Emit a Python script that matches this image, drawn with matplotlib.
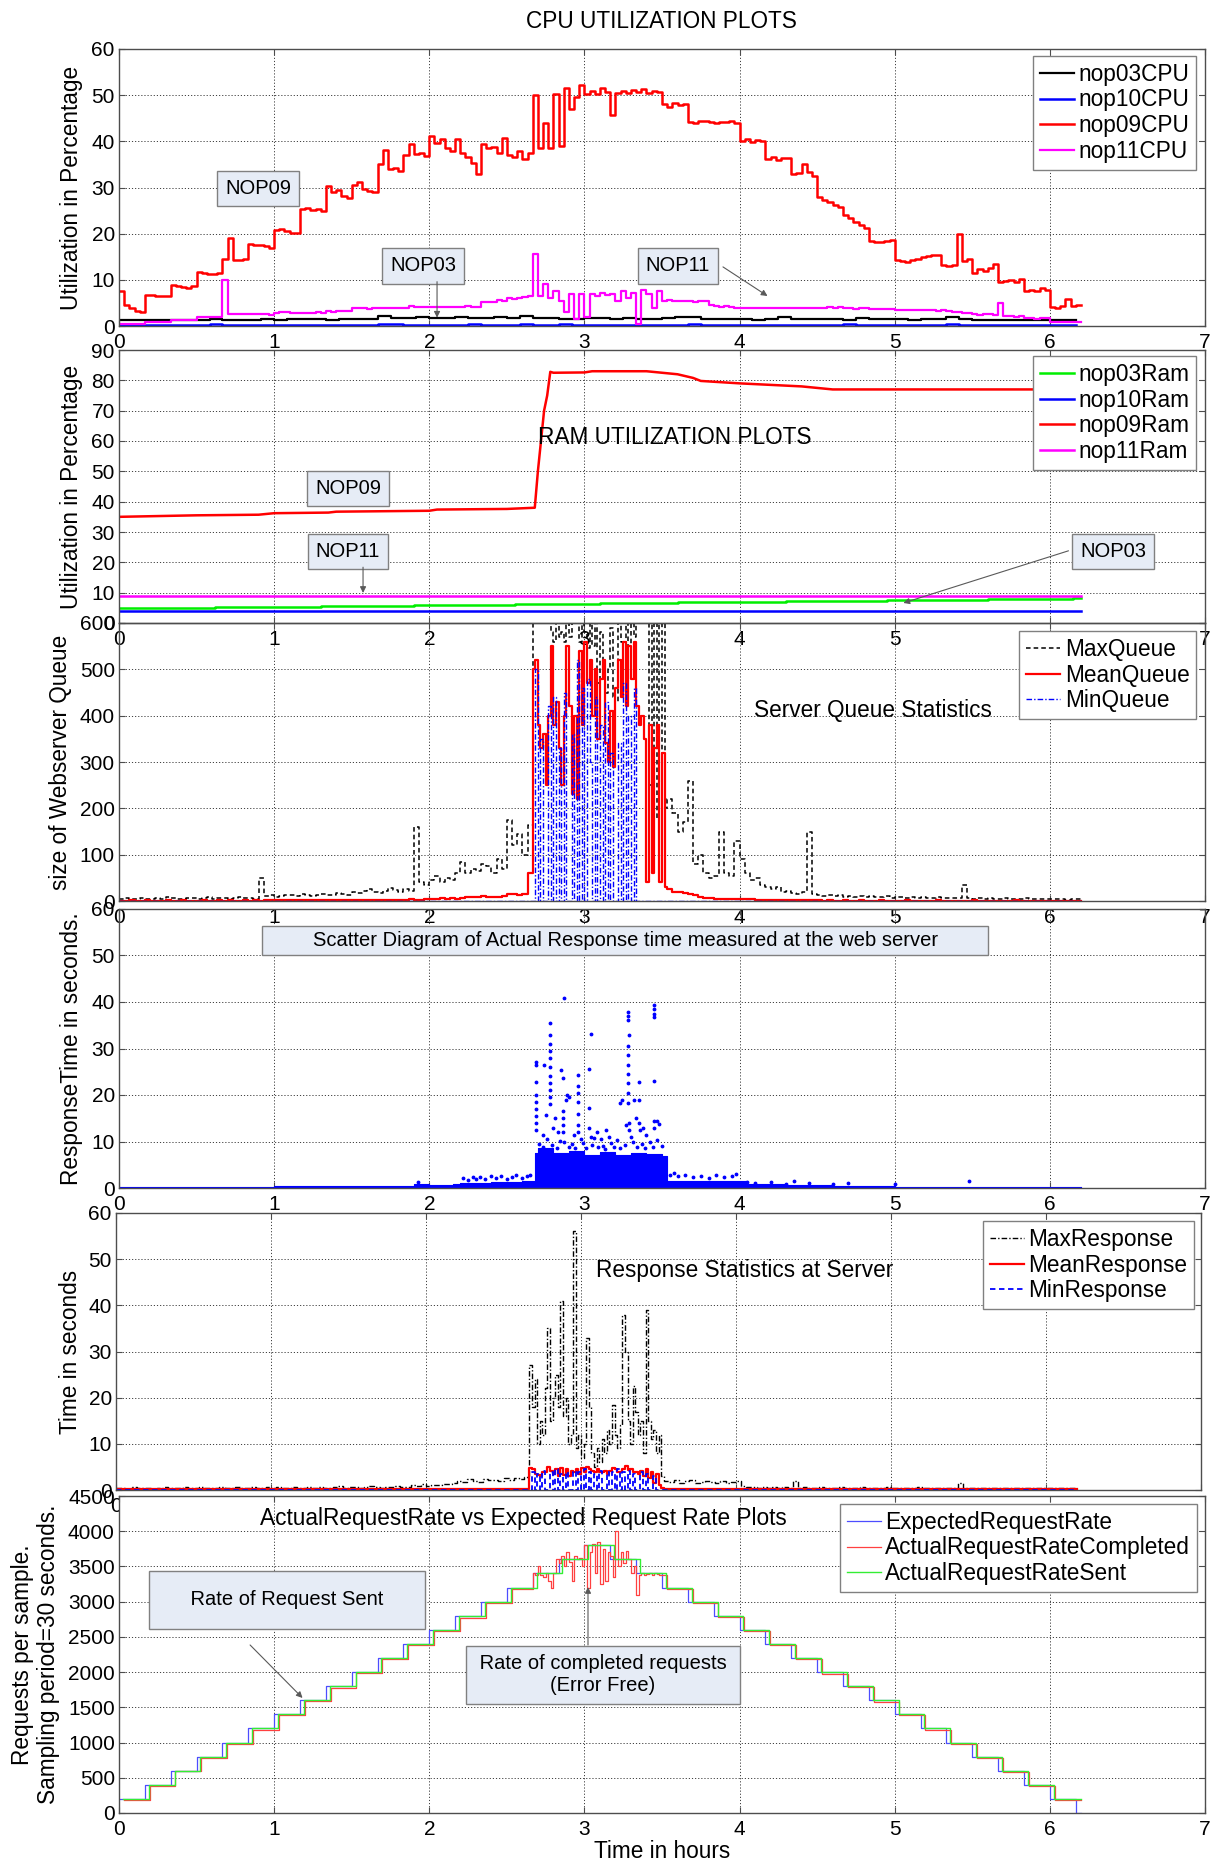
import numpy as np
import matplotlib
matplotlib.use('Agg')
import matplotlib.pyplot as plt

plt.rcParams['font.family'] = ['Liberation Sans', 'DejaVu Sans']

# ======================= DATA =======================
hour_ticks = [0, 1, 2, 3, 4, 5, 6, 7]
cpu_yticks = [0, 10, 20, 30, 40, 50, 60]
ram_yticks = [0, 10, 20, 30, 40, 50, 60, 70, 80, 90]
queue_yticks = [0, 100, 200, 300, 400, 500, 600]
resp_yticks = [0, 10, 20, 30, 40, 50, 60]
rate_yticks = [0, 500, 1000, 1500, 2000, 2500, 3000, 3500, 4000, 4500]

# --- CPU (2-minute samples) ---
cpu_nop09 = [
    7.5, 4.5, 4.0, 3.2, 3.0,
    6.8, 6.7, 6.6, 6.5, 6.6,
    8.8, 8.7, 8.5, 8.3, 8.6,
    11.6, 11.5, 11.3, 11.2, 11.4,
    14.6, 19.0, 14.4, 14.3, 14.5,
    17.8, 17.6, 17.5, 17.3, 17.0,
    20.9, 21.0, 20.6, 20.2, 20.1,
    25.3, 25.5, 25.2, 25.4, 25.0,
    30.3, 29.0, 29.5, 28.2, 27.8,
    30.5, 31.2, 29.6, 29.3, 29.0,
    35.0, 38.2, 34.0, 34.3, 33.5,
    37.0, 39.5, 37.2, 37.5, 36.8,
    41.2, 39.6, 40.5, 38.5, 38.0,
    40.5, 37.5, 36.5, 35.2, 33.0,
    39.5, 38.5, 38.8, 37.5, 40.8,
    37.0, 36.5, 38.0, 36.2, 37.5,
    50.0, 38.5, 44.0, 38.5, 50.3,
    39.0, 51.5, 47.0, 49.5, 52.2,
    50.3, 50.8, 50.2, 51.5, 50.6,
    45.8, 50.5, 51.0, 50.4, 51.2,
    50.7, 51.3, 50.5, 50.9, 50.6,
    48.0, 47.5, 48.2, 47.8, 48.0,
    44.2, 44.0, 44.5, 44.3, 44.2,
    44.0, 44.2, 44.1, 44.3, 44.0,
    40.0, 40.6, 39.8, 40.3, 40.1,
    36.2, 36.5, 36.0, 36.4, 36.3,
    33.0, 33.2, 35.0, 33.4, 32.5,
    28.0, 27.2, 26.8, 26.2, 25.8,
    24.0, 23.5, 22.5, 21.8, 21.3,
    18.5, 18.3, 18.2, 18.4, 18.6,
    14.2, 14.0, 13.8, 14.3, 14.6,
    15.0, 15.2, 15.4, 15.3, 13.2,
    13.0, 13.3, 20.0, 14.0, 14.5,
    11.5, 12.3, 12.0, 12.5, 13.5,
    9.5, 9.8, 10.0, 9.6, 10.2,
    7.5, 7.8, 7.6, 8.2, 7.9,
    4.2, 4.0, 4.3, 5.8, 4.4, 4.5, 4.6,
]
cpu_nop11 = [
    0.5, 0.5, 0.5, 0.5, 0.5,
    0.9, 0.9, 0.9, 0.9, 0.9,
    1.4, 1.4, 1.4, 1.4, 1.4,
    2.0, 2.0, 2.0, 2.0, 2.0,
    10.0, 2.6, 2.6, 2.5, 2.6,
    2.5, 2.6, 2.7, 2.6, 2.4,
    2.9, 3.0, 3.0, 2.9, 2.9,
    2.8, 2.9, 2.9, 3.0, 2.9,
    3.2, 3.1, 3.2, 3.3, 3.2,
    3.9, 3.8, 3.9, 3.7, 3.8,
    3.8, 3.9, 3.8, 4.0, 3.9,
    4.0, 4.4, 4.2, 4.1, 4.2,
    4.2, 4.1, 4.2, 4.2, 4.1,
    4.2, 4.2, 4.3, 4.2, 4.1,
    5.2, 5.3, 5.2, 5.6, 5.5,
    6.0, 5.8, 6.0, 6.3, 6.5,
    15.5, 6.5, 9.0, 6.0, 7.5,
    5.5, 3.0, 7.0, 1.5, 7.0,
    2.0, 7.0, 6.5, 7.2, 6.8,
    7.0, 5.5, 7.5, 6.0, 7.2,
    0.5, 7.8, 7.0, 4.0, 7.5,
    5.5, 5.6, 5.5, 5.5, 5.4,
    5.4, 5.3, 5.5, 5.4, 4.5,
    4.3, 4.2, 4.3, 4.2, 4.0,
    4.0, 4.0, 3.9, 4.0, 4.0,
    3.9, 3.9, 3.9, 3.8, 3.9,
    3.9, 3.8, 3.9, 4.0, 4.0,
    3.9, 4.0, 4.1, 4.0, 4.2,
    4.0, 3.8, 3.7, 3.8, 3.8,
    3.6, 3.6, 3.7, 3.6, 3.6,
    3.5, 3.5, 3.5, 3.4, 3.5,
    3.4, 3.4, 3.4, 3.3, 3.4,
    3.2, 3.0, 3.0, 2.8, 2.8,
    2.5, 2.4, 2.5, 2.5, 2.4,
    5.0, 2.2, 2.1, 2.0, 2.1,
    1.8, 1.7, 1.6, 1.7, 1.8,
    0.8, 0.8, 0.8, 0.8, 0.8, 0.8, 0.8,
]
# 5-minute samples
cpu_nop03 = [
    1.2, 1.2, 1.2, 1.3, 1.2, 1.3,
    1.4, 1.5, 1.3, 1.4, 1.3, 1.5,
    1.4, 1.6, 1.5, 1.5, 1.4, 1.6,
    1.5, 1.6, 2.2, 1.8, 1.7, 1.9,
    1.8, 1.7, 2.0, 1.8, 1.7, 1.9,
    1.8, 2.2, 1.7, 1.8, 1.5, 1.5,
    1.7, 1.8, 1.6, 1.7, 1.6, 1.5,
    1.7, 1.9, 2.0, 1.6, 1.5, 1.5,
    1.6, 1.4, 1.5, 2.0, 1.6, 1.5,
    1.5, 1.6, 1.4, 1.7, 1.5, 1.5,
    1.5, 1.4, 1.6, 1.5, 1.9, 1.5,
    1.4, 1.3, 1.4, 1.3, 1.3, 1.4,
    1.3, 1.3, 1.3,
]
cpu_nop10 = [
    0.3, 0.3, 0.3, 0.3, 0.3, 0.3,
    0.3, 0.5, 0.3, 0.3, 0.3, 0.3,
    0.3, 0.3, 0.3, 0.3, 0.3, 0.3,
    0.3, 0.3, 0.4, 0.5, 0.3, 0.3,
    0.3, 0.3, 0.3, 0.4, 0.3, 0.3,
    0.3, 0.4, 0.3, 0.3, 0.5, 0.3,
    0.3, 0.3, 0.3, 0.3, 0.3, 0.3,
    0.3, 0.3, 0.5, 0.3, 0.3, 0.3,
    0.3, 0.3, 0.3, 0.3, 0.3, 0.3,
    0.3, 0.3, 0.5, 0.3, 0.3, 0.3,
    0.3, 0.3, 0.3, 0.3, 0.4, 0.3,
    0.3, 0.3, 0.3, 0.3, 0.3, 0.3,
    0.3, 0.3, 0.3,
]

# --- RAM ---
ram09_t = [0, 0.5, 0.9, 1.0, 1.35, 1.4, 2.0, 2.05, 2.5, 2.68, 2.70, 2.72, 2.74, 2.76,
           2.78, 2.8, 3.0, 3.05, 3.4, 3.6, 3.7, 3.75, 4.0, 4.2, 4.4, 4.5, 4.6, 5.0, 5.5, 6.2]
ram09_v = [35.0, 35.5, 35.7, 36.2, 36.4, 36.7, 37.0, 37.4, 37.6, 38.0, 50.0, 60.0, 70.0, 75.0,
           82.8, 82.5, 82.6, 83.0, 83.0, 82.0, 80.8, 79.8, 79.0, 78.5, 78.0, 77.5, 77.0, 77.0, 77.0, 77.0]
ram03_t = [0, 0.62, 1.3, 1.9, 2.55, 3.1, 3.6, 4.3, 4.95, 5.6, 6.15, 6.2]
ram03_v = [4.9, 5.4, 5.7, 6.0, 6.4, 6.7, 6.9, 7.1, 7.5, 7.8, 8.2, 8.2]
ram10_t = [0, 6.2]
ram10_v = [4.0, 4.0]
ram11_t = [0, 6.2]
ram11_v = [9.0, 9.0]

# --- segment start times (hours) ---
seg_a_start, seg_b_start, seg_c_start = 0.0, 2.6667, 3.5333

# --- Webserver queue ---
qmax_a = [5, 6, 4, 5, 7, 5, 4, 6, 5, 8, 6, 5, 4, 6, 7, 5, 6, 8, 5, 6, 7, 5, 6, 8, 7, 6, 5,
          50,
          10, 12, 8, 10, 14, 12, 10, 15, 12, 10, 13, 16, 12, 14, 18, 15, 12,
          20, 18, 22, 25, 20, 18, 22, 28, 24, 20, 25, 22,
          160,
          40, 35, 45, 55, 40, 50, 45, 60,
          85,
          60, 70, 65, 80, 75, 60, 90, 70,
          175,
          120, 145, 100, 165]
qmax_b = [600, 620, 600, 640, 600, 610, 600, 580, 560, 600,
          570, 580, 560, 600, 570, 600, 620, 600, 560, 600,
          580, 545, 600, 550, 600, 470, 580, 520, 450, 500,
          590, 440, 430, 600, 560, 520, 600, 550, 600, 570,
          600, 640, 600, 620, 600, 250, 600, 180, 600, 260,
          600, 200]
qmax_c = [220, 190, 150, 170, 260, 80, 100, 60, 50, 55, 150, 60, 55, 130, 90, 60, 45, 50,
          35, 30, 25, 30, 20, 22, 18, 15, 20, 150, 15,
          12, 10, 14, 10, 12, 8, 10, 9, 11, 8, 10, 9, 8, 10, 7, 9,
          8, 7, 9, 6, 8, 7, 6, 8, 7, 6, 7, 6,
          35,
          6, 5, 7, 5, 6, 5, 4, 6, 5, 4, 5, 6, 4, 5, 4, 5, 4, 5, 4, 3, 4, 5, 4]
qmean_a = [1, 1, 2, 1, 1, 2, 1, 1, 1, 2, 1, 1, 2, 1, 1, 1, 2, 1, 1, 2,
           1, 2, 1, 1, 2, 1, 2, 1, 2, 2,
           2, 2, 3, 2, 2, 3, 2, 2, 3, 2, 2, 3, 2, 3, 2, 2, 3, 3, 2, 3,
           3, 2, 3, 3, 2, 3, 4, 3, 3, 4,
           4, 5, 6, 5, 6, 5, 6,
           8, 9, 8, 10, 9, 8, 9, 10,
           15, 16, 14, 16, 60]
qmean_b = [500, 520, 380, 330, 360, 250, 400, 550, 380, 430,
           330, 250, 400, 550, 420, 230, 400, 220, 540, 380,
           560, 470, 520, 400, 500, 350, 480, 520, 340, 300,
           410, 290, 460, 520, 440, 560, 420, 550, 480, 560,
           420, 380, 400, 350, 40, 380, 60, 330, 380, 40,
           320, 30]
qmean_c = [25, 20, 20, 18, 15, 12, 8, 7, 6, 5, 5, 4, 5, 4,
           5, 4, 4, 3, 3, 3, 3, 2, 2, 3, 2, 2, 2, 2, 2,
           2, 1, 2, 1, 1, 2, 1, 1, 2, 1, 1, 1, 2, 1, 1, 1, 1, 2, 1, 1,
           1, 1, 1, 2, 1, 1, 1, 1, 1, 1, 2, 1, 1, 1, 1, 1, 1, 1, 2, 1,
           1, 1, 1, 1, 1, 1, 1, 1, 1, 1, 1, 1]
qmin_b = [0, 500, 0, 350, 0, 0, 420, 0, 440, 0,
          330, 0, 450, 0, 0, 360, 0, 520, 0, 460,
          0, 480, 300, 0, 440, 0, 380, 0, 430, 0,
          320, 0, 0, 340, 0, 470, 0, 400, 0, 460,
          0, 0, 0, 0, 0, 0, 0, 0, 0, 0,
          0, 0]
qmin_edge_t = [0.0, 3.5333, 6.2]
qmin_edge_v = [0, 0, 0]

# --- Scatter of response times ---
band_t = [0, 0.5, 1.0, 1.5, 1.9, 2.0, 2.15, 2.2, 2.4, 2.6, 2.68, 2.7, 2.8, 2.9, 3.0, 3.1,
          3.2, 3.3, 3.4, 3.5, 3.53, 3.7, 3.9, 4.0, 4.05, 4.3, 4.6, 5.0, 6.2]
band_top = [0.3, 0.3, 0.4, 0.4, 0.8, 0.6, 0.8, 1.0, 1.2, 1.4, 7.5, 8.5, 7.5, 8.0, 7.2, 7.8,
            7.0, 7.6, 7.3, 6.8, 1.6, 1.5, 1.4, 1.5, 0.8, 0.6, 0.4, 0.3, 0.3]
scatter_t = [2.69, 2.69, 2.69, 2.69, 2.69, 2.69, 2.69, 2.69, 2.69, 2.74, 2.73, 2.75,
             2.78, 2.78, 2.78, 2.78, 2.78, 2.78, 2.78, 2.78, 2.78, 2.78, 2.78,
             2.80, 2.81, 2.83, 2.85, 2.86, 2.86, 2.86, 2.86, 2.86, 2.87, 2.88, 2.89, 2.90,
             2.93, 2.96, 2.96, 2.96, 2.96, 2.96, 2.96, 2.96, 2.98,
             3.03, 3.04, 3.03, 3.03, 3.04, 3.08, 3.11, 3.14, 3.16,
             3.23, 3.24, 3.27,
             3.28, 3.28, 3.28, 3.28, 3.28, 3.28, 3.28, 3.28, 3.28, 3.28, 3.29, 3.29, 3.29, 3.30,
             3.32, 3.33, 3.35, 3.35, 3.35, 3.36, 3.38, 3.40,
             3.45, 3.45, 3.45, 3.45, 3.45, 3.45, 3.45, 3.47, 3.48,
             2.71, 2.73, 2.76, 2.79, 2.82, 2.84, 2.87, 2.90, 2.92, 2.94, 2.99, 3.01, 3.05, 3.06,
             3.09, 3.12, 3.13, 3.17, 3.19, 3.21, 3.23, 3.26, 3.31, 3.34, 3.37, 3.39, 3.42, 3.44,
             3.47, 3.50,
             2.22, 2.25, 2.28, 2.30, 2.33, 2.36, 2.40, 2.43, 2.46, 2.50, 2.53, 2.56, 2.60, 2.63,
             2.65, 3.55, 3.58, 3.60, 3.65, 3.70, 3.75, 3.80, 3.85, 3.90, 3.95, 3.98,
             4.05, 4.10, 4.20, 4.30, 4.45, 4.60, 1.93, 4.35, 4.70, 5.48, 5.00]
scatter_v = [27.2, 26.5, 22.7, 20.0, 18.5, 17.0, 15.5, 14.0, 12.5, 26.4, 11.5, 15.8,
             35.4, 33.0, 31.0, 29.5, 28.0, 26.0, 24.0, 22.5, 21.0, 19.5, 18.0,
             13.0, 15.0, 12.0, 25.4, 23.6, 16.5, 15.0, 13.5, 12.0, 40.9, 19.0, 20.0, 19.5,
             11.5, 24.3, 22.0, 20.5, 18.5, 16.0, 13.5, 12.0, 10.5,
             25.6, 33.2, 17.2, 13.0, 11.0, 12.0, 10.5, 12.5, 11.0,
             18.3, 19.0, 13.5,
             37.9, 37.0, 36.1, 30.6, 28.5, 26.5, 24.5, 22.5, 20.5, 18.3, 33.0, 14.0, 12.5, 11.0,
             19.0, 15.0, 22.8, 19.0, 14.0, 12.5, 13.0, 11.5,
             39.3, 38.5, 37.5, 36.8, 23.0, 14.5, 13.0, 14.5, 13.8,
             9.5, 8.8, 10.5, 9.2, 8.6, 10.2, 9.8, 8.9, 9.4, 8.5, 9.6, 8.7, 9.3, 10.8,
             8.8, 9.1, 8.4, 9.7, 8.9, 10.3, 8.6, 9.2, 9.9, 8.8, 9.5, 8.7, 9.8, 8.9,
             10.4, 9.0,
             2.2, 1.8, 2.4, 2.0, 2.3, 1.9, 2.5, 2.1, 2.6, 2.0, 2.4, 2.7, 2.2, 2.5,
             2.9, 2.8, 3.2, 2.5, 2.9, 2.4, 2.6, 2.2, 2.8, 2.3, 2.6, 3.0,
             1.2, 1.0, 1.3, 0.9, 1.1, 0.8, 1.2, 1.6, 1.0, 1.5, 0.8]

# --- Response statistics ---
rmax_a = [0.4, 0.5, 0.3, 0.6, 0.4, 0.5, 0.4, 0.3, 0.5, 0.6,
          0.4, 0.5, 0.4, 0.7, 0.5, 0.4, 0.6, 0.5, 0.4, 0.5,
          0.6, 0.4, 0.5, 0.7, 0.5, 0.4, 0.6, 0.5, 0.4, 0.6,
          0.5, 0.7, 0.4, 0.5, 0.6, 0.5, 0.4, 0.7, 0.5, 0.6,
          0.5, 0.4, 0.6, 0.8, 0.5, 0.6, 0.7, 0.5, 0.6, 0.8,
          0.6, 0.5, 0.7, 0.6, 0.8, 0.6, 0.7,
          1.0, 0.8, 1.2, 0.9, 1.1, 1.0, 1.3, 1.2, 1.5,
          2.0, 1.8, 2.3, 2.0, 1.7, 2.4, 2.1, 2.2, 1.9, 2.5, 2.2, 2.6, 2.4, 2.8]
rmax_b = [27, 18, 24, 10, 15, 12, 22, 35, 15, 20,
          25, 18, 41, 16, 20, 10, 12, 56, 9, 12,
          7, 10, 33, 18, 8, 5, 9, 6, 11, 8,
          13, 10, 18.5, 12, 9, 14, 38, 30, 15, 10,
          22.5, 17, 12, 15, 8, 39, 15, 11, 13, 8,
          12, 3]
rmax_c = [2.0, 1.8, 2.2, 1.6, 1.9, 2.1, 1.5, 1.8, 2.0, 1.7, 1.6, 1.9, 1.5, 1.8, 2.0,
          0.8, 0.6, 0.7, 0.5, 0.6, 0.5, 0.7, 0.5, 0.6, 0.5,
          2.0, 0.5, 0.6, 0.4, 0.5, 0.6, 0.4, 0.5, 0.4, 0.6,
          0.5, 0.4, 0.5, 0.6, 0.4, 0.5, 0.4, 0.5, 0.6, 0.4,
          0.5, 0.4, 0.5, 0.4, 0.6, 0.5, 0.4, 0.5, 0.4, 0.5,
          0.4, 0.5, 1.5, 0.4, 0.5, 0.4, 0.5, 0.4, 0.4, 0.5,
          0.4, 0.5, 0.4, 0.4, 0.5, 0.4, 0.4, 0.5, 0.4, 0.4,
          0.5, 0.4, 0.4, 0.5, 0.4, 0.4]
rmean_b = [4.8, 4.5, 3.5, 3.2, 3.0, 3.8, 4.0, 5.0, 4.2, 3.5,
           4.5, 3.0, 4.8, 3.2, 4.5, 3.0, 4.2, 3.8, 4.6, 3.5,
           4.8, 4.0, 5.0, 4.5, 4.2, 3.8, 4.5, 4.0, 3.8, 4.2,
           3.5, 4.2, 4.8, 4.5, 4.0, 3.8, 4.6, 5.2, 4.3, 4.6,
           3.8, 4.0, 3.5, 4.2, 3.0, 4.5, 2.5, 4.0, 1.5, 3.5,
           1.0, 0.5]
rmean_edge_t = [0.0, 2.6, 3.5333, 6.2]
rmean_edge_v = [0.3, 0.3, 0.3, 0.3]
rmin_b = [0, 4, 0, 3.5, 0, 4.2, 0, 0, 3.8, 0,
          4.5, 0, 3.5, 0, 4.0, 0, 0, 4.2, 0, 3.8,
          0, 4.5, 0, 4.0, 0, 3.5, 0, 4.2, 0, 0,
          4.0, 0, 3.8, 0, 4.5, 0, 4.0, 0, 4.2, 0,
          3.5, 0, 0, 4.0, 0, 3.5, 0, 0, 3.0, 0,
          0, 0]
rmin_edge_t = [0.0, 3.5333, 6.2]
rmin_edge_v = [0.05, 0.05, 0.05]

# --- Request rates (10-minute levels) ---
expected_levels = [200, 400, 600, 800, 1000, 1200, 1400, 1600, 1800, 2000, 2200, 2400, 2600,
                   2800, 3000, 3200, 3400, 3600, 3800, 3600, 3400, 3200, 3000, 2800, 2600,
                   2400, 2200, 2000, 1800, 1600, 1400, 1200, 1000, 800, 600, 400, 200, 0]
sent_levels = [200, 400, 600, 800, 1000, 1200, 1400, 1600, 1800, 2000, 2200, 2400, 2600,
               2800, 3000, 3200, 3400, 3600, 3800, 3600, 3400, 3200, 3000, 2800, 2600,
               2400, 2200, 2000, 1800, 1600, 1400, 1200, 1000, 800, 600, 400, 200]
sent_lag = 0.025
completed_early = [190, 390, 590, 785, 985, 1180, 1385, 1585, 1780, 1985, 2180, 2385, 2580,
                   2775, 2980, 3185]
completed_peak = [3400, 3380, 3500, 3380, 3350, 3400, 3300, 3200, 3400, 3600,
                  3550, 3650, 3500, 3700, 3560, 3300, 3650, 3600, 3620, 3500,
                  3800, 3200, 3700, 3820, 3400, 3850, 3250, 3750, 3300, 3700,
                  3650, 3350, 4000, 3500, 3700, 3550, 3720, 3600, 3400, 3500,
                  3100, 3380, 3400, 3380, 3390, 3400, 3380, 3400, 3390, 3380]
completed_late = [3180, 2980, 2780, 2585, 2380, 2185, 1980, 1785, 1580, 1385, 1180, 985,
                  785, 585, 385, 190]
completed_lag = 0.03
end_hour = 6.2

# ======================= FIGURE =======================
W, H = 1214.0, 1862.0
fig = plt.figure(figsize=(W / 100, H / 100), dpi=100)

FS_LABEL = 16.3
FS_TEXT = 16.3
FS_LEG = 16.3
FS_BOX = 14.5


def rect(left, top, right, bottom):
    return [left / W, 1 - bottom / H, (right - left) / W, (bottom - top) / H]


def style(ax, yticks, fc='none'):
    ax.set_xlim(0, 7)
    ax.set_ylim(yticks[0], yticks[-1])
    ax.set_xticks(hour_ticks)
    ax.set_yticks(yticks)
    ax.set_axisbelow(True)
    ax.grid(True, linestyle=(0, (1.2, 2.0)), color='0.25', lw=0.7)
    ax.tick_params(direction='in', length=4, labelsize=15, top=True, right=True,
                   color='0.3', labelcolor='black')
    ax.tick_params(axis='y', pad=3)
    ax.tick_params(axis='x', pad=5)
    for s in ax.spines.values():
        s.set_color('0.3')
        s.set_linewidth(1.0)
    ax.set_facecolor(fc)


BOX = dict(boxstyle='square,pad=0.4', fc='#e6ecf6', ec='0.5', lw=1)
ARROW = dict(arrowstyle='-|>', color='0.35', lw=0.8, mutation_scale=9, shrinkA=0, shrinkB=0)


def legend(ax, x, y):
    lg = ax.legend(loc='upper right', bbox_to_anchor=(x, y), fontsize=FS_LEG, frameon=True,
                   fancybox=False, edgecolor='0.5', framealpha=1, borderpad=0.3,
                   labelspacing=0.12, handlelength=1.5, handletextpad=0.2, borderaxespad=0)
    lg.get_frame().set_linewidth(1.0)


fig.text(661 / W, 1 - 22 / H, 'CPU UTILIZATION PLOTS', ha='center', va='center',
         fontsize=FS_TEXT)

# ---- Panel 1: CPU ----
ax1 = fig.add_axes(rect(119, 49, 1205, 326))
style(ax1, cpu_yticks, fc='white')
t30 = np.arange(len(cpu_nop09)) / 30.0
t12 = np.arange(len(cpu_nop03)) / 12.0
ax1.plot(t12, cpu_nop03, color='black', lw=1.6, drawstyle='steps-post', label='nop03CPU')
ax1.plot(t12, cpu_nop10, color='blue', lw=1.8, drawstyle='steps-post', label='nop10CPU')
ax1.plot(t30, cpu_nop09, color='red', lw=1.8, drawstyle='steps-post', label='nop09CPU')
ax1.plot(np.arange(len(cpu_nop11)) / 30.0, cpu_nop11, color='magenta', lw=1.6,
         drawstyle='steps-post', label='nop11CPU')
ax1.set_ylabel('Utilization in Percentage', fontsize=FS_LABEL)
ax1.yaxis.set_label_coords(-0.033, 0.5)
legend(ax1, 0.992, 0.975)
ax1.text(0.896, 29.7, 'NOP09', ha='center', va='center', fontsize=FS_BOX, bbox=BOX)
ax1.text(1.96, 13.0, 'NOP03', ha='center', va='center', fontsize=FS_BOX, bbox=BOX)
ax1.annotate('', xy=(2.05, 1.8), xytext=(2.05, 9.6), arrowprops=ARROW)
ax1.text(3.603, 13.0, 'NOP11', ha='center', va='center', fontsize=FS_BOX, bbox=BOX)
ax1.annotate('', xy=(4.18, 6.5), xytext=(3.893, 12.8), arrowprops=ARROW)

# ---- Panel 2: RAM ----
ax2 = fig.add_axes(rect(119, 350, 1205, 623))
style(ax2, ram_yticks)
ax2.plot(ram03_t, ram03_v, color='#00ee00', lw=1.8, drawstyle='steps-post', label='nop03Ram')
ax2.plot(ram10_t, ram10_v, color='blue', lw=1.8, label='nop10Ram')
ax2.plot(ram09_t, ram09_v, color='red', lw=1.8, label='nop09Ram')
ax2.plot(ram11_t, ram11_v, color='magenta', lw=1.8, label='nop11Ram')
ax2.set_ylabel('Utilization in Percentage', fontsize=FS_LABEL)
ax2.yaxis.set_label_coords(-0.033, 0.5)
legend(ax2, 0.992, 0.978)
ax2.text(2.70, 61.3, 'RAM UTILIZATION PLOTS', ha='left', va='center', fontsize=FS_TEXT)
ax2.text(1.476, 44.2, 'NOP09', ha='center', va='center', fontsize=FS_BOX, bbox=BOX)
ax2.text(1.476, 23.7, 'NOP11', ha='center', va='center', fontsize=FS_BOX, bbox=BOX)
ax2.annotate('', xy=(1.573, 9.9), xytext=(1.573, 18.4), arrowprops=ARROW)
ax2.text(6.407, 23.7, 'NOP03', ha='center', va='center', fontsize=FS_BOX, bbox=BOX)
ax2.annotate('', xy=(5.056, 6.6), xytext=(6.12, 23.8), arrowprops=ARROW)

# ---- Panel 3: Queue ----
ax3 = fig.add_axes(rect(119, 623, 1205, 901))
style(ax3, queue_yticks)
qa_t = seg_a_start + np.arange(len(qmax_a)) / 30.0
qb_t = seg_b_start + np.arange(len(qmax_b)) / 60.0
qc_t = seg_c_start + np.arange(len(qmax_c)) / 30.0
q_t = np.concatenate([qa_t, qb_t, qc_t])
ax3.plot(q_t, qmax_a + qmax_b + qmax_c, color='black', lw=1.1, ls=(0, (3, 2)),
         drawstyle='steps-post', label='MaxQueue')
ax3.plot(q_t, qmean_a + qmean_b + qmean_c, color='red', lw=1.6, drawstyle='steps-post',
         label='MeanQueue')
qmin_t = np.concatenate([[qmin_edge_t[0]], qb_t, qmin_edge_t[1:]])
qmin_v = [qmin_edge_v[0]] + qmin_b + qmin_edge_v[1:]
ax3.plot(qmin_t, qmin_v, color='blue', lw=1.0, ls=(0, (4, 1.5, 1, 1.5)),
         drawstyle='steps-post', label='MinQueue')
ax3.set_ylabel('size of Webserver Queue', fontsize=FS_LABEL)
ax3.yaxis.set_label_coords(-0.043, 0.5)
legend(ax3, 0.992, 0.971)
ax3.text(4.09, 412, 'Server Queue Statistics', ha='left', va='center', fontsize=FS_TEXT)

# ---- Panel 4: Scatter ----
ax4 = fig.add_axes(rect(119, 909, 1205, 1188))
style(ax4, resp_yticks)
ax4.fill_between(band_t, 0, band_top, step='post', color='blue', lw=0)
ax4.plot(band_t, band_top, color='blue', lw=0.8, drawstyle='steps-post')
ax4.plot(scatter_t, scatter_v, ls='none', marker='.', ms=3.5, color='blue')
ax4.set_ylabel('ResponseTime in seconds.', fontsize=FS_LABEL)
ax4.yaxis.set_label_coords(-0.033, 0.5)
ax4.text(3.262, 53.3,
         '        Scatter Diagram of Actual Response time measured at the web server        ',
         ha='center', va='center', fontsize=FS_BOX,
         bbox=dict(boxstyle='square,pad=0.25', fc='#e6ecf6', ec='0.5', lw=1))

# ---- Panel 5: Response statistics ----
ax5 = fig.add_axes(rect(116, 1213, 1201, 1490))
style(ax5, resp_yticks)
ra_t = seg_a_start + np.arange(len(rmax_a)) / 30.0
rb_t = seg_b_start + np.arange(len(rmax_b)) / 60.0
rc_t = seg_c_start + np.arange(len(rmax_c)) / 30.0
ax5.plot(np.concatenate([ra_t, rb_t, rc_t]), rmax_a + rmax_b + rmax_c, color='black', lw=1.0,
         ls=(0, (4, 1.5, 1, 1.5)), drawstyle='steps-post', label='MaxResponse')
rmean_t = np.concatenate([rmean_edge_t[:2], rb_t, rmean_edge_t[2:]])
ax5.plot(rmean_t, rmean_edge_v[:2] + rmean_b + rmean_edge_v[2:], color='red', lw=1.6,
         drawstyle='steps-post', label='MeanResponse')
rmin_t = np.concatenate([[rmin_edge_t[0]], rb_t, rmin_edge_t[1:]])
ax5.plot(rmin_t, [rmin_edge_v[0]] + rmin_b + rmin_edge_v[1:], color='blue', lw=1.3,
         ls=(0, (3, 2)), drawstyle='steps-post', label='MinResponse')
ax5.set_ylabel('Time in seconds', fontsize=FS_LABEL)
ax5.yaxis.set_label_coords(-0.031, 0.5)
legend(ax5, 0.9935, 0.971)
ax5.text(3.097, 47.6, 'Response Statistics at Server', ha='left', va='center',
         fontsize=FS_TEXT)

# ---- Panel 6: Request rates ----
ax6 = fig.add_axes(rect(119, 1496, 1205, 1813))
style(ax6, rate_yticks, fc='white')
k_exp = np.arange(len(expected_levels)) / 6.0
ax6.plot(np.append(k_exp, end_hour), expected_levels + [expected_levels[-1]], color='#4d4dff',
         lw=0.9, drawstyle='steps-post', label='ExpectedRequestRate')
comp_t = np.concatenate([np.arange(len(completed_early)) / 6.0 + completed_lag,
                         seg_b_start + np.arange(len(completed_peak)) / 60.0,
                         (21 + np.arange(len(completed_late))) / 6.0 + completed_lag,
                         [end_hour]])
comp_v = completed_early + completed_peak + completed_late + [completed_late[-1]]
ax6.plot(comp_t, comp_v, color='#ff4040', lw=0.9, drawstyle='steps-post',
         label='ActualRequestRateCompleted')
sent_t = np.append(np.arange(len(sent_levels)) / 6.0 + sent_lag, end_hour)
ax6.plot(sent_t, sent_levels + [sent_levels[-1]], color='#33ee33', lw=1.0,
         drawstyle='steps-post', label='ActualRequestRateSent')
ax6.set_ylabel('Requests per sample.\nSampling period=30 seconds.', fontsize=FS_LABEL)
ax6.yaxis.set_label_coords(-0.054, 0.5)
ax6.set_xlabel('Time in hours', fontsize=FS_LABEL, labelpad=1)
legend(ax6, 0.9926, 0.975)
ax6.text(0.909, 4174, 'ActualRequestRate vs Expected Request Rate Plots', ha='left',
         va='center', fontsize=FS_TEXT)
ax6.text(1.083, 3024, '    Rate of Request Sent    ', ha='center', va='center', fontsize=FS_BOX,
         bbox=dict(boxstyle='square,pad=0.95', fc='#e6ecf6', ec='0.5', lw=1))
ax6.annotate('', xy=(1.183, 1633), xytext=(0.845, 2385), arrowprops=ARROW)
ax6.text(3.12, 1959, ' Rate of completed requests \n(Error Free)', ha='center', va='center',
         fontsize=FS_BOX, multialignment='center',
         bbox=dict(boxstyle='square,pad=0.4', fc='#e6ecf6', ec='0.5', lw=1))
ax6.annotate('', xy=(3.023, 3208), xytext=(3.023, 2385), arrowprops=ARROW)

fig.savefig('out.png', dpi=100)
